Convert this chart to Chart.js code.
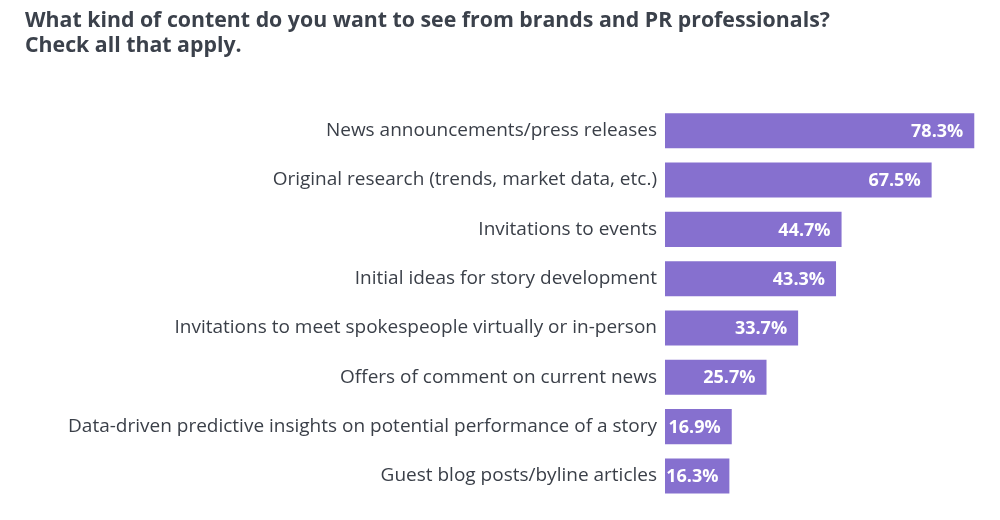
<!DOCTYPE html>
<html><head><meta charset="utf-8">
<script src="https://cdn.jsdelivr.net/npm/chart.js@4"></script>
<style>html,body{margin:0;padding:0;background:#fff;}#wrap{width:1000px;height:520px;}</style>
</head><body><div id="wrap"><canvas id="c" width="1000" height="520"></canvas></div>
<script>
const categories = [
  "News announcements/press releases",
  "Original research (trends, market data, etc.)",
  "Invitations to events",
  "Initial ideas for story development",
  "Invitations to meet spokespeople virtually or in-person",
  "Offers of comment on current news",
  "Data-driven predictive insights on potential performance of a story",
  "Guest blog posts/byline articles"
];
const values = [78.3, 67.5, 44.7, 43.3, 33.7, 25.7, 16.9, 16.3];
const titleLines = ["What kind of content do you want to see from brands and PR professionals?", "Check all that apply."];

const FONT = "'Open Sans', 'DejaVu Sans', sans-serif";

const valueLabels = {
  id: 'valueLabels',
  afterDatasetsDraw(chart) {
    const ctx = chart.ctx;
    const meta = chart.getDatasetMeta(0);
    ctx.save();
    ctx.fillStyle = '#ffffff';
    ctx.font = "bold 18px " + FONT;
    ctx.textAlign = 'right';
    ctx.textBaseline = 'middle';
    meta.data.forEach((bar, i) => {
      ctx.fillText(values[i].toFixed(1) + '%', bar.x - 11, bar.y + 1);
    });
    ctx.restore();
  }
};

new Chart(document.getElementById('c'), {
  type: 'bar',
  data: {
    labels: categories,
    datasets: [{
      data: values,
      backgroundColor: '#8670cf',
      borderWidth: 0,
      barPercentage: 0.9,
      categoryPercentage: 0.79
    }]
  },
  options: {
    indexAxis: 'y',
    responsive: false,
    animation: false,
    layout: { padding: { left: 25, right: 19, bottom: 18, top: 0 } },
    plugins: {
      legend: { display: false },
      tooltip: { enabled: false },
      title: {
        display: true,
        text: titleLines,
        align: 'start',
        color: '#3b414b',
        font: { family: FONT, size: 21.3, weight: 'bold', lineHeight: 1.2 },
        padding: { top: 8, bottom: 47 }
      }
    },
    scales: {
      x: { display: false, min: 0, max: 80 },
      y: {
        grid: { display: false, drawTicks: false },
        border: { display: false },
        ticks: { color: '#3a3f48', font: { family: FONT, size: 19 }, padding: 8 },
        afterFit(scale) { scale.width = 640; }
      }
    }
  },
  plugins: [valueLabels]
});
</script>
</body></html>
